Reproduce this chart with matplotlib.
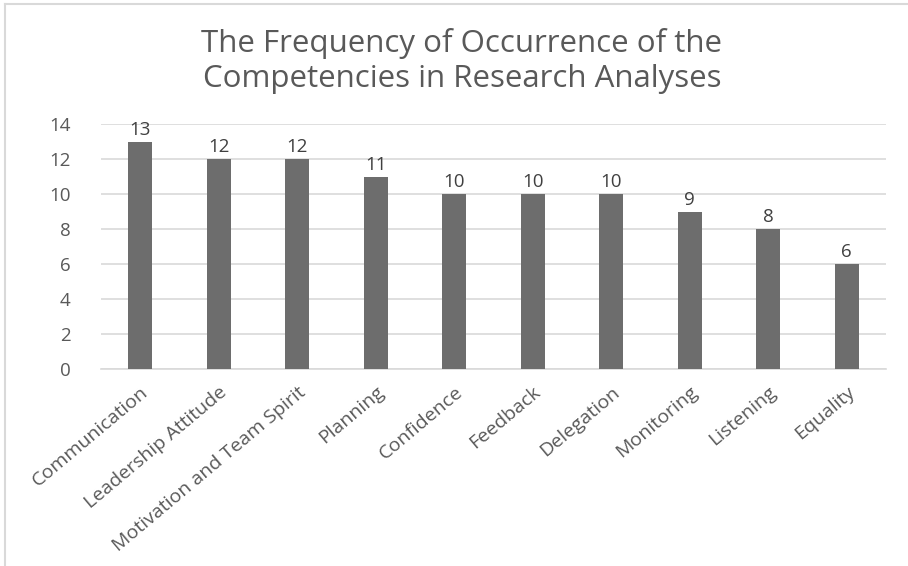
import matplotlib.pyplot as plt
from matplotlib.lines import Line2D
import numpy as np

competencies = ["Communication", "Leadership Attitude", "Motivation and Team Spirit",
                "Planning", "Confidence", "Feedback", "Delegation", "Monitoring",
                "Listening", "Equality"]
frequency = [13, 12, 12, 11, 10, 10, 10, 9, 8, 6]
y_ticks = [0, 2, 4, 6, 8, 10, 12, 14]

plt.rcParams['font.family'] = ['Open Sans', 'DejaVu Sans']

W, H = 908, 566
fig = plt.figure(figsize=(W / 100, H / 100), dpi=100)
ax = fig.add_axes([101 / W, 1 - 369 / H, (886 - 101) / W, (369 - 124) / H])

x = np.arange(len(competencies))
ax.bar(x, frequency, width=0.31, color='#6d6d6d', zorder=3)
for xi, v in zip(x, frequency):
    ax.text(xi, v + 0.15, str(v), ha='center', va='bottom', fontsize=13.5, color='#404040')

ax.set_xlim(-0.5, len(competencies) - 0.5)
ax.set_ylim(0, 14)
ax.set_yticks(y_ticks)
ax.yaxis.grid(True, color='#d9d9d9', linewidth=1.2, zorder=0)
ax.tick_params(axis='y', length=0, labelsize=13.5, labelcolor='#595959', pad=22)
ax.tick_params(axis='x', length=0, labelsize=14, labelcolor='#595959', pad=10)
ax.set_xticks(x)
ax.set_xticklabels(competencies, rotation=40, ha='right', rotation_mode='anchor')
for s in ['top', 'right', 'left']:
    ax.spines[s].set_visible(False)
ax.spines['bottom'].set_color('#d9d9d9')
ax.spines['bottom'].set_linewidth(1.2)

fig.text(462 / W, 1 - 61 / H, "The Frequency of Occurrence of the\nCompetencies in Research Analyses",
         ha='center', va='center', fontsize=22.5, color='#595959', linespacing=1.25)

# light frame of the chart area
fig.add_artist(Line2D([5 / W, 5 / W], [0, 1 - 4 / H], color='#d9d9d9', linewidth=1.5))
fig.add_artist(Line2D([5 / W, 1], [1 - 4 / H, 1 - 4 / H], color='#d9d9d9', linewidth=1.5))

fig.savefig('out.png', dpi=100)
